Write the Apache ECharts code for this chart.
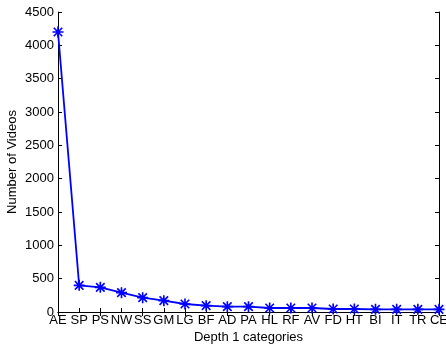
<!DOCTYPE html>
<html><head><meta charset="utf-8">
<script src="https://cdn.jsdelivr.net/npm/echarts@6/dist/echarts.min.js"></script>
<style>html,body{margin:0;padding:0;background:#fff}#c{width:446px;height:344px}</style>
</head><body><div id="c"></div>
<script>
var categories = ['AE','SP','PS','NW','SS','GM','LG','BF','AD','PA','HL','RF','AV','FD','HT','BI','IT','TR','CE'];
var videos = [4200,400,370,290,215,170,120,95,80,80,60,60,60,45,45,40,40,40,40];
var yTicks = {min:0, max:4500, interval:500};

var star = 'path://M8.5 0H11.5V20H8.5Z M0 8.5H20V11.5H0Z M1.2 3.3L3.3 1.2L18.8 16.7L16.7 18.8Z M16.7 1.2L18.8 3.3L3.3 18.8L1.2 16.7Z';
var font = 'Liberation Sans';
var fs = 13;
var chart = echarts.init(document.getElementById('c'));
chart.setOption({
  animation:false,
  grid:{left:58,right:7,top:12,bottom:32,show:false,containLabel:false,outerBoundsMode:'none'},
  xAxis:[{
    type:'category', data:categories, boundaryGap:false,
    name:'Depth 1 categories', nameLocation:'middle', nameGap:19, nameMoveOverlap:false,
    nameTextStyle:{color:'#000',fontFamily:font,fontSize:fs},
    axisLine:{lineStyle:{color:'#000',width:1}},
    axisTick:{inside:true,length:4,alignWithLabel:true,lineStyle:{color:'#000'}},
    axisLabel:{interval:0,color:'#000',fontFamily:font,fontSize:fs,margin:2,hideOverlap:false},
    splitLine:{show:false}
  },{
    type:'category', data:categories, boundaryGap:false, position:'top',
    axisLine:{lineStyle:{color:'#000',width:1}},
    axisTick:{inside:true,length:4,lineStyle:{color:'#000'}},
    axisLabel:{show:false}, splitLine:{show:false}
  }],
  yAxis:[{
    type:'value', min:yTicks.min, max:yTicks.max, interval:yTicks.interval,
    name:'Number of Videos', nameLocation:'middle', nameGap:39, nameMoveOverlap:false,
    nameTextStyle:{color:'#000',fontFamily:font,fontSize:fs},
    axisLine:{show:true,lineStyle:{color:'#000',width:1}},
    axisTick:{show:true,inside:true,length:4,lineStyle:{color:'#000'}},
    axisLabel:{color:'#000',fontFamily:font,fontSize:fs,margin:4,formatter:function(v){return String(v);}},
    splitLine:{show:false}
  },{
    type:'value', min:yTicks.min, max:yTicks.max, interval:yTicks.interval, position:'right',
    axisLine:{show:true,lineStyle:{color:'#000',width:1}},
    axisTick:{show:true,inside:true,length:4,lineStyle:{color:'#000'}},
    axisLabel:{show:false}, splitLine:{show:false}
  }],
  series:[{
    type:'line', data:videos, xAxisIndex:0, yAxisIndex:0,
    symbol:star, symbolSize:11, showAllSymbol:true,
    lineStyle:{color:'#0000ff',width:1.8},
    itemStyle:{color:'#0000ff',borderWidth:0}
  }]
});
</script></body></html>
